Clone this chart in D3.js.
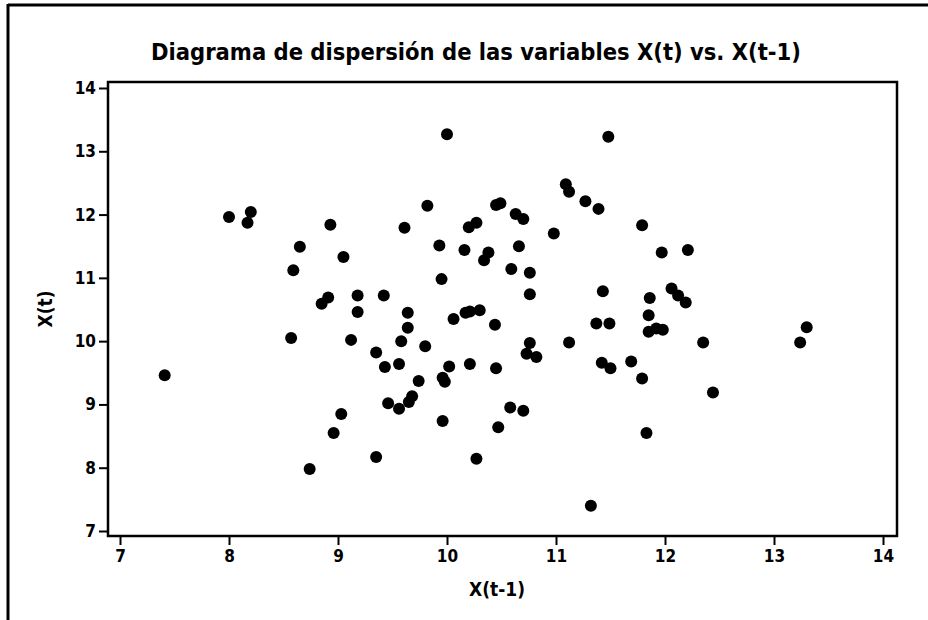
<!DOCTYPE html>
<html>
<head>
<meta charset="utf-8">
<script src="https://cdn.jsdelivr.net/npm/d3@7"></script>
<style>
  body { margin: 0; background: #fff; }
  svg text { font-family: "DejaVu Sans Condensed", "Liberation Sans", sans-serif; font-weight: bold; fill: #000; }
  .axis .domain { display: none; }
  .axis line { stroke: #000; stroke-width: 2; }
</style>
</head>
<body>
<div id="chart"></div>
<script>
// X(t-1) and X(t)
const xPrev = [7.41, 8.00, 8.20, 8.17, 8.59, 8.65, 8.57, 8.74, 8.85, 8.91,
  8.93, 8.96, 9.03, 9.05, 9.12, 9.18, 9.18, 9.35, 9.35, 9.42,
  9.43, 9.46, 9.56, 9.56, 9.58, 9.61, 9.64, 9.64, 9.65, 9.68,
  9.74, 9.80, 9.82, 9.93, 9.95, 9.96, 9.98, 9.96, 10.00, 10.02,
  10.06, 10.16, 10.17, 10.20, 10.21, 10.21, 10.27, 10.27, 10.30, 10.34,
  10.38, 10.44, 10.45, 10.45, 10.49, 10.47, 10.58, 10.59, 10.63, 10.66,
  10.70, 10.70, 10.73, 10.76, 10.76, 10.76, 10.82, 10.98, 11.09, 11.12,
  11.12, 11.27, 11.32, 11.37, 11.39, 11.42, 11.43, 11.48, 11.49, 11.50,
  11.69, 11.79, 11.79, 11.83, 11.85, 11.86, 11.85, 11.92, 11.98, 11.97,
  12.06, 12.12, 12.19, 12.21, 12.35, 12.44, 13.24, 13.30];
const xCur = [9.46, 11.96, 12.04, 11.87, 11.12, 11.49, 10.05, 7.98, 10.59, 10.69,
  11.84, 8.55, 8.85, 11.33, 10.02, 10.72, 10.46, 9.82, 8.17, 10.72,
  9.59, 9.02, 9.64, 8.93, 10.00, 11.79, 10.45, 10.21, 9.04, 9.13,
  9.37, 9.92, 12.14, 11.51, 10.98, 9.42, 9.36, 8.74, 13.27, 9.60,
  10.35, 11.44, 10.45, 11.80, 10.47, 9.64, 11.87, 8.14, 10.49, 11.28,
  11.40, 10.26, 9.57, 12.15, 12.18, 8.64, 8.95, 11.14, 12.01, 11.50,
  11.93, 8.90, 9.80, 11.08, 10.74, 9.97, 9.75, 11.70, 12.48, 12.36,
  9.98, 12.21, 7.40, 10.28, 12.09, 9.66, 10.79, 13.23, 10.28, 9.57,
  9.68, 11.83, 9.41, 8.55, 10.41, 10.68, 10.15, 10.20, 10.18, 11.40,
  10.83, 10.72, 10.61, 11.44, 9.98, 9.19, 9.98, 10.22];
const tickValues = [7, 8, 9, 10, 11, 12, 13, 14];

const titleText = "Diagrama de dispersión de las variables X(t) vs. X(t-1)";
const xLabel = "X(t-1)";
const yLabel = "X(t)";

const width = 928, height = 620;
const frame = { left: 108, right: 897, top: 82, bottom: 536 };

const svg = d3.select("#chart").append("svg")
  .attr("width", width)
  .attr("height", height);

// outer border (top and left only, like the scan)
svg.append("line").attr("x1", 8).attr("x2", width).attr("y1", 5).attr("y2", 5)
  .attr("stroke", "#000").attr("stroke-width", 3);
svg.append("line").attr("x1", 8).attr("x2", 8).attr("y1", 4).attr("y2", height)
  .attr("stroke", "#000").attr("stroke-width", 3);

const x = d3.scaleLinear().domain([7, 14]).range([120, 883]);
const y = d3.scaleLinear().domain([7, 14]).range([531, 88]);

// plot frame
svg.append("rect")
  .attr("x", frame.left).attr("y", frame.top)
  .attr("width", frame.right - frame.left)
  .attr("height", frame.bottom - frame.top)
  .attr("fill", "none").attr("stroke", "#000").attr("stroke-width", 2.5);

const xAxis = d3.axisBottom(x).tickValues(tickValues).tickFormat(d3.format("d")).tickSize(9).tickPadding(5);
const yAxis = d3.axisLeft(y).tickValues(tickValues).tickFormat(d3.format("d")).tickSize(9).tickPadding(3);

svg.append("g")
  .attr("class", "axis x-axis")
  .attr("transform", "translate(0," + frame.bottom + ")")
  .call(xAxis);

svg.append("g")
  .attr("class", "axis y-axis")
  .attr("transform", "translate(" + frame.left + ",0)")
  .call(yAxis);

svg.selectAll(".axis text")
  .attr("font-size", 17)
  .attr("font-family", null);

svg.selectAll("circle.pt")
  .data(d3.range(xPrev.length))
  .enter().append("circle")
  .attr("class", "pt")
  .attr("cx", i => x(xPrev[i]))
  .attr("cy", i => y(xCur[i]))
  .attr("r", 6)
  .attr("fill", "#000");

svg.append("text")
  .attr("x", 476).attr("y", 60)
  .attr("text-anchor", "middle")
  .attr("font-size", 23.5)
  .text(titleText);

svg.append("text")
  .attr("x", 497).attr("y", 596)
  .attr("text-anchor", "middle")
  .attr("font-size", 19)
  .text(xLabel);

svg.append("text")
  .attr("transform", "translate(52," + ((frame.top + frame.bottom) / 2) + ") rotate(-90)")
  .attr("text-anchor", "middle")
  .attr("font-size", 19)
  .text(yLabel);
</script>
</body>
</html>
